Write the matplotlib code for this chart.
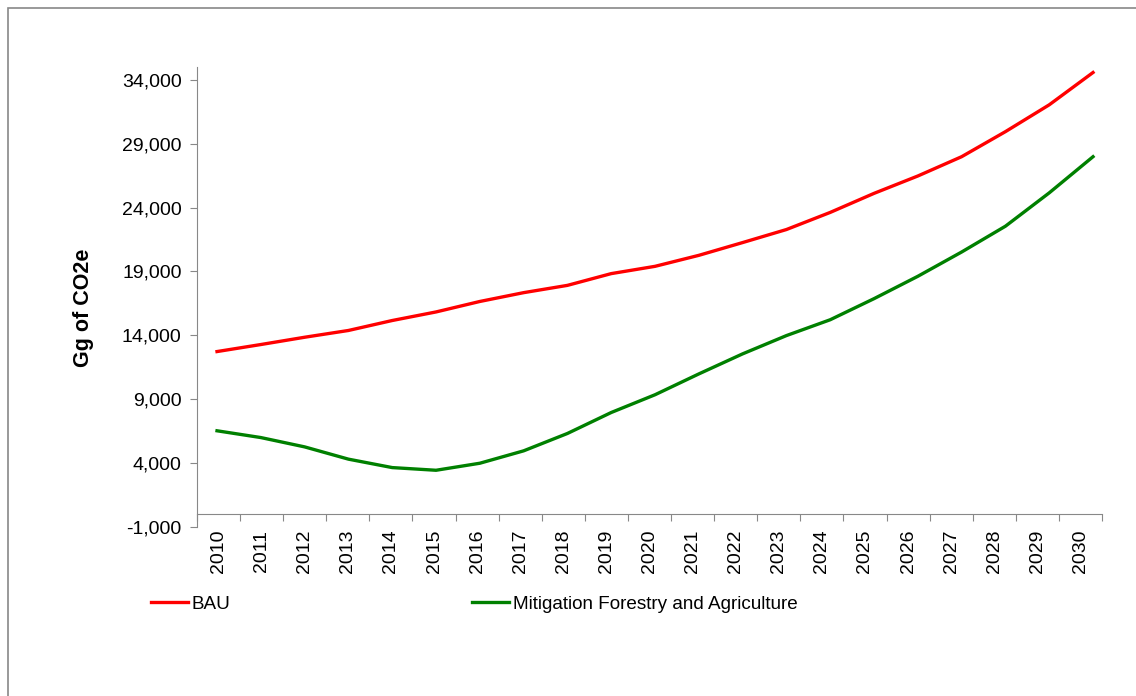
import matplotlib
matplotlib.use("Agg")
import matplotlib.pyplot as plt
from matplotlib.patches import Rectangle
from matplotlib.ticker import FuncFormatter, FixedLocator

plt.rcParams['font.family'] = ['Liberation Sans', 'DejaVu Sans']

# data (Gg of CO2e)
years = [str(y) for y in range(2010, 2031)]
bau = [12730, 13280, 13850, 14380, 15160, 15830, 16650, 17340, 17910, 18830, 19400,
       20260, 21260, 22280, 23620, 25110, 26470, 27980, 29940, 32040, 34570]
mitigation = [6530, 6000, 5270, 4310, 3650, 3440, 3990, 4960, 6320, 7960, 9350,
              10980, 12550, 13980, 15220, 16870, 18620, 20520, 22540, 25150, 27980]
yticks = list(range(-1000, 34001, 5000))

grey = '#888888'

fig = plt.figure(figsize=(11.36, 6.96), dpi=100)
# outer chart border (runs off the right and bottom edges like the original)
fig.patches.append(Rectangle((8 / 1136, -0.05), 1.05, 1.05 - 8 / 696,
                             transform=fig.transFigure, fill=False,
                             edgecolor=grey, linewidth=1.2))

ax = fig.add_axes([197 / 1136, 1 - 527 / 696, 905 / 1136, 460 / 696])
n = len(years)
ax.set_xlim(-0.5, n - 0.5)
ax.set_ylim(-1000, 35000)

for s in ['top', 'right']:
    ax.spines[s].set_visible(False)
ax.spines['left'].set_color(grey)
ax.spines['bottom'].set_color(grey)
ax.spines['bottom'].set_position(('data', 0))

# category ticks between labels, labels centred
ax.xaxis.set_major_locator(FixedLocator([i - 0.5 for i in range(n + 1)]))
ax.xaxis.set_major_formatter(FuncFormatter(lambda v, p: ''))
ax.set_xticks(range(n), years, minor=True)
ax.tick_params(axis='x', which='major', direction='out', length=5, color=grey)
ax.tick_params(axis='x', which='minor', length=0, labelsize=14, rotation=90, pad=11)

ax.set_yticks(yticks)
ax.yaxis.set_major_formatter(FuncFormatter(lambda v, p: f'{int(v):,}'))
ax.tick_params(axis='y', direction='out', length=5, color=grey, labelsize=14, pad=6)

# hidden twin for the series so the lines span like the original
ax2 = ax.twiny()
ax2.set_xlim(-0.457, 20.205)
ax2.axis('off')
l1, = ax2.plot(range(n), bau, color='#ff0000', lw=2.4, label='BAU')
l2, = ax2.plot(range(n), mitigation, color='#008000', lw=2.4,
               label='Mitigation Forestry and Agriculture')

fig.text(84 / 1136, 1 - 308 / 696, 'Gg of CO2e', rotation=90, fontsize=15.5,
         fontweight='bold', ha='center', va='center')

fig.legend(handles=[l1, l2], loc='center left', ncol=2,
           bbox_to_anchor=(151 / 1136, 1 - 604 / 696), frameon=False,
           fontsize=13.6, handlelength=1.95, handletextpad=0.2,
           columnspacing=12.8, borderpad=0, borderaxespad=0)

plt.savefig('out.png', dpi=100)
